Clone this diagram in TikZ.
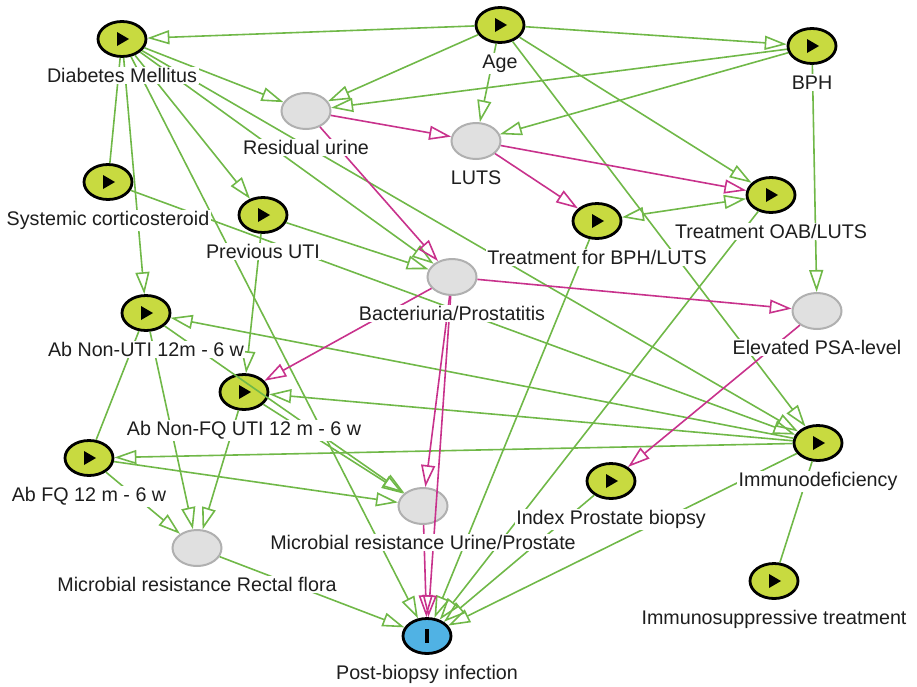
\documentclass[tikz,border=0pt]{standalone}
\usepackage{fontspec}
\setmainfont{Liberation Sans}
\usetikzlibrary{shapes.geometric,arrows.meta}
\definecolor{gline}{RGB}{112,184,72}
\definecolor{pline}{RGB}{200,50,140}
\definecolor{nfill}{RGB}{200,218,64}
\definecolor{gfill}{RGB}{224,224,224}
\definecolor{gdraw}{RGB}{176,176,176}
\definecolor{bfill}{RGB}{80,178,228}
\definecolor{txt}{RGB}{30,30,30}
\begin{document}
\begin{tikzpicture}[x=1pt,y=-1pt,
 expo/.style={ellipse, draw=black, line width=2.8pt, fill=nfill, minimum width=48pt, minimum height=35pt, inner sep=0pt,
   path picture={\fill[black] (path picture bounding box.center) ++(-5pt,7pt) -- ++(12pt,-7pt) -- ++(-12pt,-7pt) -- cycle;}},
 latent/.style={ellipse, draw=gdraw, line width=2pt, fill=gfill, minimum width=49pt, minimum height=36pt, inner sep=0pt},
 outc/.style={ellipse, draw=black, line width=2.8pt, fill=bfill, minimum width=48pt, minimum height=35pt, inner sep=0pt,
   path picture={\fill[black] (path picture bounding box.center) ++(-2pt,-7pt) rectangle ++(4pt,14pt);}},
 lbl/.style={fill=white, inner sep=1.5pt, text=txt, font=\fontsize{19.7}{22}\selectfont, anchor=base},
 tip/.tip={Triangle[open,length=22pt,width=14pt]},
 ga/.style={draw=gline, line width=1.6pt, -tip},
 gb/.style={draw=gline, line width=1.6pt, tip-tip},
 gl/.style={draw=gline, line width=1.6pt},
 pa/.style={draw=pline, line width=1.6pt, -tip}
]
\useasboundingbox (0,0) rectangle (917,686);
% nodes
\node[expo] (DM) at (122,39) {};
\node[expo] (Age) at (500,25) {};
\node[expo] (BPH) at (812,46) {};
\node[latent] (RU) at (306,111) {};
\node[latent] (LUTS) at (476,141) {};
\node[expo] (TOAB) at (771,195) {};
\node[expo] (TBPH) at (597,221) {};
\node[expo] (SC) at (108,182) {};
\node[expo] (PUTI) at (263,215) {};
\node[latent] (BP) at (452,277) {};
\node[latent] (PSA) at (817,311) {};
\node[expo] (ANU) at (146,313) {};
\node[expo] (ANFQ) at (244,392) {};
\node[expo] (AFQ) at (89,458) {};
\node[expo] (ID) at (818,443) {};
\node[expo] (IPB) at (611,481) {};
\node[latent] (MRU) at (423,506) {};
\node[latent] (MRR) at (197,548) {};
\node[expo] (IST) at (774,581) {};
\node[outc] (PBI) at (427,636) {};
% green arrows
\draw[ga] (Age) -- (DM);
\draw[ga] (Age) -- (RU);
\draw[ga] (Age) -- (LUTS);
\draw[ga] (Age) -- (BPH);
\draw[ga] (Age) -- (TOAB);
\draw[ga] (Age) -- (ID);
\draw[ga] (BPH) -- (RU);
\draw[ga] (BPH) -- (LUTS);
\draw[ga] (BPH) -- (PSA);
\draw[ga] (DM) -- (RU);
\draw[ga] (DM) -- (PUTI);
\draw[ga] (DM) -- (BP);
\draw[ga] (DM) -- (ID);
\draw[ga] (DM) -- (ANU);
\draw[ga] (DM) -- (PBI);
\draw[ga] (SC) -- (ID);
\draw[ga] (PUTI) -- (BP);
\draw[ga] (PUTI) -- (ANFQ);
\draw[ga] (ID) -- (ANU);
\draw[ga] (ID) -- (ANFQ);
\draw[ga] (ID) -- (AFQ);
\draw[ga] (ID) -- (PBI);
\draw[ga] (ANU) -- (MRR);
\draw[ga] (ANU) -- (MRU);
\draw[ga] (ANFQ) -- (MRR);
\draw[ga] (ANFQ) -- (MRU);
\draw[ga] (AFQ) -- (MRR);
\draw[ga] (AFQ) -- (MRU);
\draw[ga] (MRR) -- (PBI);
\draw[ga] (TBPH) -- (PBI);
\draw[ga] (TOAB) -- (PBI);
\draw[ga] (IPB) -- (PBI);
\draw[gb] (TBPH) -- (TOAB);
\draw[gl] (DM) -- (SC);
\draw[gl] (ANU) -- (AFQ);
\draw[gl] (IST) -- (ID);
% pink arrows
\draw[pa] (RU) -- (LUTS);
\draw[pa] (RU) -- (BP);
\draw[pa] (LUTS) -- (TOAB);
\draw[pa] (LUTS) -- (TBPH);
\draw[pa] (BP) -- (PSA);
\draw[pa] (BP) -- (ANFQ);
\draw[pa] (BP) -- (MRU);
\draw[pa] (BP) -- (PBI);
\draw[pa] (MRU) -- (PBI);
\draw[pa] (PSA) -- (IPB);
% labels
\node[lbl] (DMl) at ([yshift=-43.5pt]DM.center) {Diabetes Mellitus};
\node[lbl] (Agel) at ([yshift=-43.5pt]Age.center) {Age};
\node[lbl] (BPHl) at ([yshift=-43.5pt]BPH.center) {BPH};
\node[lbl] (RUl) at ([yshift=-43.5pt]RU.center) {Residual urine};
\node[lbl] (LUTSl) at ([yshift=-43.5pt]LUTS.center) {LUTS};
\node[lbl] (TOABl) at ([yshift=-43.5pt]TOAB.center) {Treatment OAB/LUTS};
\node[lbl] (TBPHl) at ([yshift=-43.5pt]TBPH.center) {Treatment for BPH/LUTS};
\node[lbl] (SCl) at ([yshift=-43.5pt]SC.center) {Systemic corticosteroid};
\node[lbl] (PUTIl) at ([yshift=-43.5pt]PUTI.center) {Previous UTI};
\node[lbl] (BPl) at ([yshift=-43.5pt]BP.center) {Bacteriuria/Prostatitis};
\node[lbl] (PSAl) at ([yshift=-43.5pt]PSA.center) {Elevated PSA-level};
\node[lbl] (ANUl) at ([yshift=-43.5pt]ANU.center) {Ab Non-UTI 12m - 6 w};
\node[lbl] (ANFQl) at ([yshift=-43.5pt]ANFQ.center) {Ab Non-FQ UTI 12 m - 6 w};
\node[lbl] (AFQl) at ([yshift=-43.5pt]AFQ.center) {Ab FQ 12 m - 6 w};
\node[lbl] (IDl) at ([yshift=-43.5pt]ID.center) {Immunodeficiency};
\node[lbl] (IPBl) at ([yshift=-43.5pt]IPB.center) {Index Prostate biopsy};
\node[lbl] (MRUl) at ([yshift=-43.5pt]MRU.center) {Microbial resistance Urine/Prostate};
\node[lbl] (MRRl) at ([yshift=-43.5pt]MRR.center) {Microbial resistance Rectal flora};
\node[lbl] (ISTl) at ([yshift=-43.5pt]IST.center) {Immunosuppressive treatment};
\node[lbl] (PBIl) at ([yshift=-43.5pt]PBI.center) {Post-biopsy infection};
\end{tikzpicture}
\end{document}
